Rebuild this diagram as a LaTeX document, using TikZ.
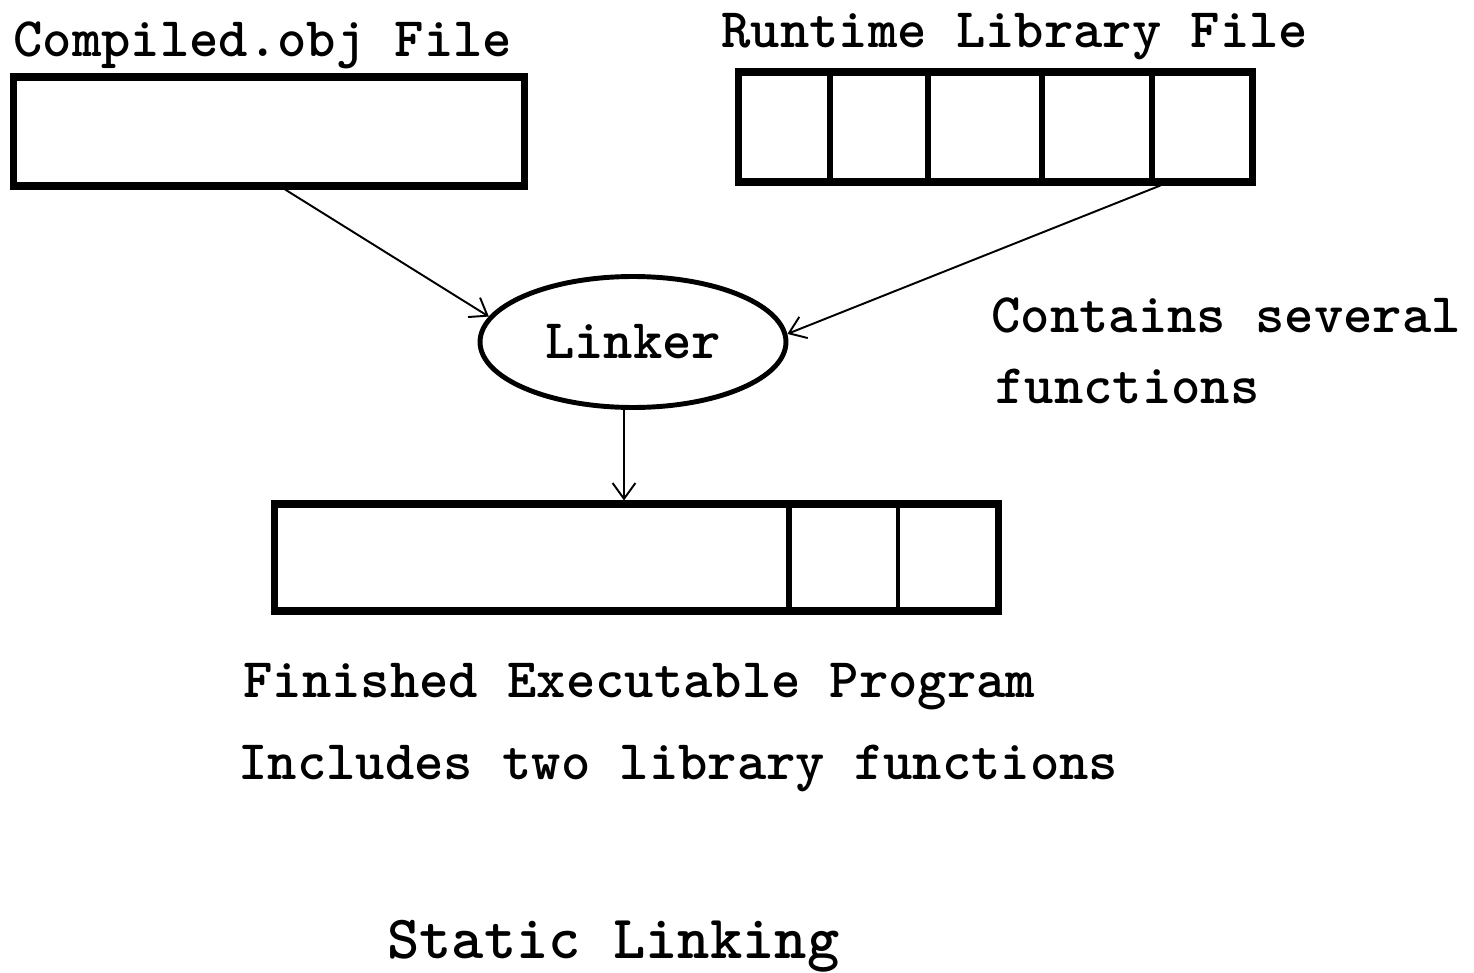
\documentclass[tikz,border=0pt]{standalone}
\usetikzlibrary{shapes.geometric,arrows.meta,calc}
\begin{document}
\begin{tikzpicture}[x=0.02cm,y=-0.02cm,
  lbl/.style={anchor=base west, inner sep=0, font=\ttfamily\bfseries\fontsize{31.8}{36}\selectfont},
  biglbl/.style={anchor=base west, inner sep=0, font=\ttfamily\bfseries\fontsize{35}{40}\selectfont},
  filebox/.style={draw, rectangle, line width=4pt, inner sep=0},
  divider/.style={line width=3pt},
  thindiv/.style={line width=2.4pt},
  conn/.style={line width=1.1pt, -{Straight Barb[length=9pt,width=13pt,line width=1.1pt]}}]
\useasboundingbox[fill=white] (0,0) rectangle (1474,973);

% boxes
\node[filebox, minimum width=10.24cm, minimum height=2.18cm] (obj) at (269,131.5) {};
\node[filebox, minimum width=10.3cm, minimum height=2.2cm] (lib) at (995.5,127) {};
\node[filebox, minimum width=14.5cm, minimum height=2.14cm] (exe) at (636.5,557.5) {};
\node[draw, ellipse, line width=2.8pt, inner sep=0, minimum width=6.12cm, minimum height=2.62cm,
      font=\ttfamily\bfseries\fontsize{31.8}{36}\selectfont] (linker) at (633,342) {Linker};

% dividers
\foreach \x in {830,928,1042,1152}
  \draw[divider] (\x,72) -- (\x,182);
\draw[divider] (789,504) -- (789,611);
\draw[thindiv] (898,504) -- (898,611);

% connector start points
\coordinate (s1) at ($(obj.south west)!0.531!(obj.south east)$);
\coordinate (s2) at ($(lib.south west)!0.816!(lib.south east)$);
\coordinate (s3) at ($(linker.south)+(-9,0)$);

\draw[conn] (s1) -- (linker.170);
\draw[conn] (s2) -- (linker.3);
\draw[conn] (s3) -- (s3 |- exe.north);

% labels
\node[lbl] (tobj) at (13,57) {Compiled.obj File};
\node[lbl] (tlib) at (721,48) {Runtime Library File};
\node[lbl] (tc1) at (991,333) {Contains several};
\node[lbl] (tc2) at (995,403) {functions};
\node[lbl] (tfin) at (243,697) {Finished Executable Program};
\node[lbl] (tinc) at (238,779) {Includes two library functions};
\node[biglbl] (title) at (387,958) {Static Linking};
\end{tikzpicture}
\end{document}
